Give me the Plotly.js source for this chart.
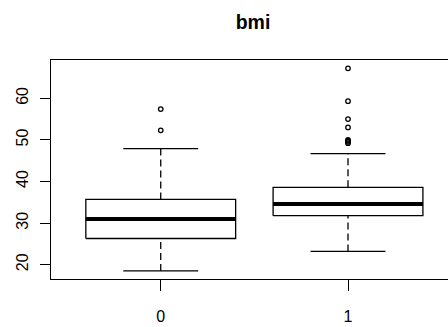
<!DOCTYPE html>
<html>
<head>
<meta charset="utf-8">
<script src="https://cdn.plot.ly/plotly-3.0.1.min.js"></script>
<style>html,body{margin:0;padding:0;background:#fff;}#chart{width:448px;height:327px;}</style>
</head>
<body>
<div id="chart"></div>
<script>
var categories = ['0', '1'];
var lowerWhisker = [18.5, 23.2];
var q1 = [26.3, 31.8];
var median = [31.0, 34.6];
var q3 = [35.7, 38.6];
var upperWhisker = [47.9, 46.7];
var outliers0 = [57.4, 52.3];
var outliers1 = [67.2, 59.3, 55.0, 53.0, 50.0, 49.8, 49.5, 49.2];
var outliers = [outliers0, outliers1];

var BOXHALF = 0.4, CAPHALF = 0.2;
var traces = [];
function seg(x, y, w, dash) {
  traces.push({type: 'scatter', mode: 'lines', x: x, y: y, hoverinfo: 'skip', showlegend: false,
    line: {color: '#000', width: w, dash: dash || 'solid'}});
}
categories.forEach(function (c, i) {
  seg([i - BOXHALF, i + BOXHALF, i + BOXHALF, i - BOXHALF, i - BOXHALF], [q1[i], q1[i], q3[i], q3[i], q1[i]], 1.3);
  seg([i - BOXHALF, i + BOXHALF], [median[i], median[i]], 4);
  seg([i, i], [q3[i], upperWhisker[i]], 1.3, '7px,4px');
  seg([i, i], [lowerWhisker[i], q1[i]], 1.3, '7px,4px');
  seg([i - CAPHALF, i + CAPHALF], [upperWhisker[i], upperWhisker[i]], 1.3);
  seg([i - CAPHALF, i + CAPHALF], [lowerWhisker[i], lowerWhisker[i]], 1.3);
  traces.push({type: 'scatter', mode: 'markers', x: outliers[i].map(function () { return i; }), y: outliers[i],
    hoverinfo: 'skip', showlegend: false,
    marker: {symbol: 'circle-open', size: 4.5, color: '#000', line: {width: 1.3, color: '#000'}}});
});

var layout = {
  width: 448, height: 327,
  margin: {l: 51, r: 0, t: 60, b: 48, pad: 0},
  paper_bgcolor: '#fff', plot_bgcolor: '#fff',
  font: {family: 'Liberation Sans, Arial, sans-serif', size: 16, color: '#000'},
  title: {text: 'bmi', x: 253 / 448, xanchor: 'center', xref: 'container', y: 1 - 22 / 327, yanchor: 'middle',
    yref: 'container',
    font: {family: 'Liberation Sans, Arial, sans-serif', size: 19.5, weight: 'bold', color: '#000'}},
  xaxis: {range: [-0.586, 1.534], tickvals: [0, 1], ticktext: categories, showgrid: false, zeroline: false,
    showline: true, mirror: true, linecolor: '#000', linewidth: 1.3,
    ticks: 'outside', ticklen: 11, tickwidth: 1, tickcolor: '#000', ticklabelstandoff: 11,
    tickfont: {size: 16, color: '#000'}},
  yaxis: {range: [16.57, 69.2], tickvals: [20, 30, 40, 50, 60], showgrid: false, zeroline: false,
    showline: true, mirror: false, linecolor: '#000', linewidth: 1.5,
    ticks: 'outside', ticklen: 10, tickwidth: 1, tickcolor: '#000', tickangle: -90, ticklabelstandoff: 5,
    tickfont: {size: 16, color: '#000'}}
};
Plotly.newPlot('chart', traces, layout, {staticPlot: true, displayModeBar: false});
</script>
</body>
</html>
